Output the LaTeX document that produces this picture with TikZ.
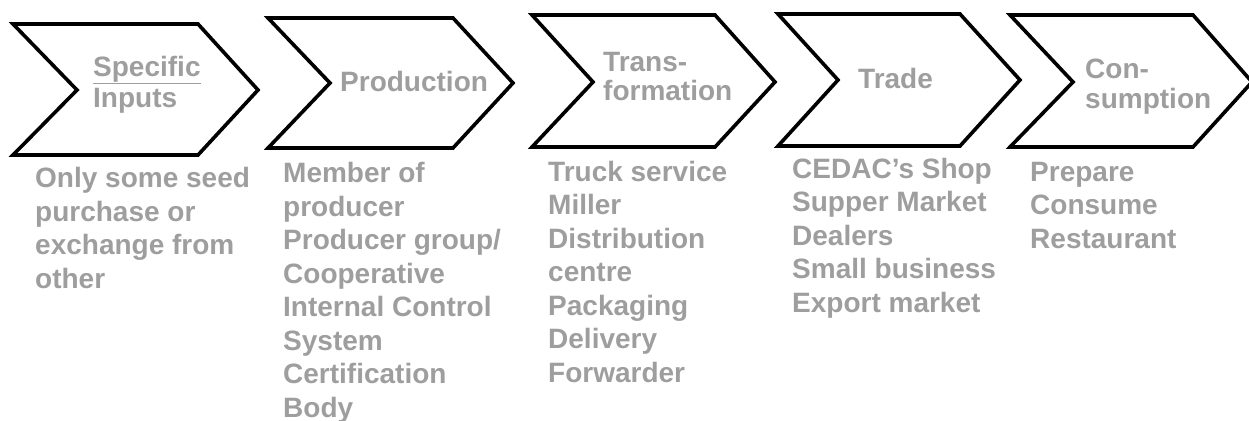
\documentclass[tikz,border=0pt]{standalone}
\usepackage{fontspec}
\setmainfont{Liberation Sans}
\definecolor{txtgray}{RGB}{158,158,158}
\tikzset{
  chev/.style={draw=black, line width=3.6pt, line join=miter, fill=white},
  lbl/.style={text=txtgray, font=\bfseries\fontsize{28}{33.5}\selectfont, inner sep=0pt, align=left, anchor=base west},
}
\begin{document}
\begin{tikzpicture}[x=1pt,y=-1pt]
\useasboundingbox (0,0) rectangle (1249,420);
\draw[chev] (13,24) -- (198,24) -- (258,90) -- (198,155) -- (13,155) -- (77,90) -- cycle;
\draw[chev] (268,18) -- (453,18) -- (513,83) -- (453,148) -- (268,148) -- (330,83) -- cycle;
\draw[chev] (532,15) -- (715,15) -- (775,82) -- (715,147) -- (532,147) -- (593,82) -- cycle;
\draw[chev] (778,14) -- (960,14) -- (1020,80) -- (960,146) -- (778,146) -- (838,80) -- cycle;
\draw[chev] (1010,15) -- (1193,15) -- (1252,82) -- (1193,147) -- (1010,147) -- (1073,82) -- cycle;
\node[lbl] (h1) at (93,107) {\underline{Specific}\\[-2.5pt]Inputs};
\node[lbl] (h2) at (340,92) {Production};
\node[lbl] (h3) at (603,100) {Trans-\\[-4.5pt]formation};
\node[lbl] (h4) at (858,88) {Trade};
\node[lbl] (h5) at (1085,108) {Con-\\[-3.5pt]sumption};
\node[lbl] (t1) at (35,288) {Only some seed\\purchase or\\exchange from\\other};
\node[lbl] (t2) at (283,417) {Member of\\producer\\Producer group/\\Cooperative\\Internal Control\\System\\Certification\\Body};
\node[lbl] (t3) at (548,382) {Truck service\\Miller\\Distribution\\centre\\Packaging\\Delivery\\Forwarder};
\node[lbl] (t4) at (792,312) {CEDAC’s Shop\\Supper Market\\Dealers\\Small business\\Export market};
\node[lbl] (t5) at (1030,248) {Prepare\\Consume\\Restaurant};
\end{tikzpicture}
\end{document}
